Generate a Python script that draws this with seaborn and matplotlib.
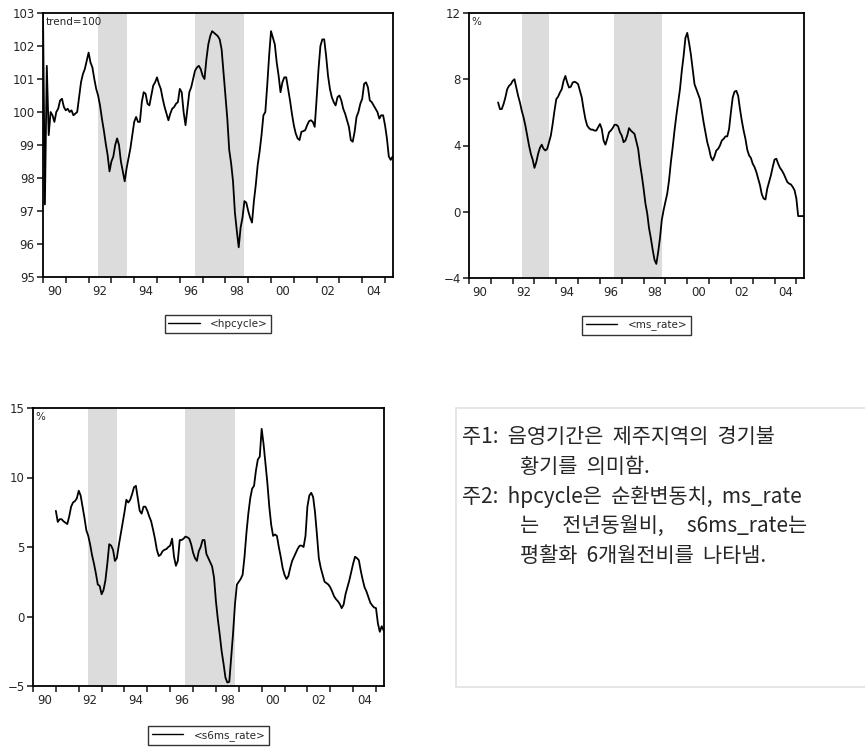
import numpy as np
import pandas as pd

import matplotlib
matplotlib.use("Agg")
import matplotlib.pyplot as plt
import seaborn as sns
from matplotlib.patches import Rectangle


# ---------------------------- DATA (monthly, from 1990:01) ----------------------------
# hpcycle : cyclical component, trend = 100
hpcycle_start = 0
hpcycle = [103.0, 97.2, 101.4, 99.3, 100.0, 99.9, 99.7, 100.0, 100.1, 100.35,
           100.4, 100.15, 100.05, 100.1, 100.0, 100.05, 99.9, 99.95, 100.0, 100.45,
           100.9, 101.15, 101.3, 101.55, 101.8, 101.5, 101.35, 101.0, 100.7, 100.5,
           100.2, 99.8, 99.45, 99.05, 98.7, 98.2, 98.5, 98.65, 99.0, 99.2,
           99.0, 98.5, 98.2, 97.9, 98.3, 98.6, 98.9, 99.3, 99.7, 99.85,
           99.7, 99.7, 100.3, 100.6, 100.55, 100.25, 100.2, 100.5, 100.8, 100.9,
           101.05, 100.85, 100.7, 100.4, 100.15, 99.95, 99.75, 99.95, 100.1, 100.15,
           100.25, 100.3, 100.7, 100.6, 100.0, 99.6, 100.1, 100.6, 100.75, 101.0,
           101.25, 101.35, 101.4, 101.3, 101.1, 101.0, 101.6, 102.05, 102.3, 102.45,
           102.4, 102.35, 102.3, 102.2, 101.9, 101.2, 100.5, 99.8, 98.85, 98.45,
           97.9, 96.95, 96.4, 95.9, 96.5, 96.8, 97.3, 97.25, 97.0, 96.8,
           96.65, 97.3, 97.8, 98.4, 98.8, 99.3, 99.9, 100.0, 100.8, 101.7,
           102.45, 102.25, 102.05, 101.5, 101.1, 100.6, 100.9, 101.05, 101.05, 100.7,
           100.35, 99.95, 99.6, 99.35, 99.2, 99.15, 99.4, 99.42, 99.45, 99.6,
           99.72, 99.75, 99.7, 99.55, 100.4, 101.3, 102.0, 102.2, 102.2, 101.7,
           101.1, 100.7, 100.45, 100.3, 100.2, 100.45, 100.5, 100.35, 100.1, 99.95,
           99.75, 99.55, 99.15, 99.1, 99.4, 99.85, 100.0, 100.25, 100.4, 100.85,
           100.9, 100.75, 100.35, 100.3, 100.2, 100.1, 100.0, 99.8, 99.9, 99.9,
           99.6, 99.2, 98.65, 98.55, 98.65]

# ms_rate : year-on-year (%), starts 1991:05
ms_rate_start = 16
ms_rate = [6.6, 6.2, 6.2, 6.5,
           6.9, 7.4, 7.6, 7.7, 7.9, 8.0, 7.5, 7.0, 6.6, 6.1,
           5.7, 5.2, 4.6, 4.0, 3.5, 3.15, 2.65, 3.0, 3.5, 3.86,
           4.05, 3.8, 3.7, 3.8, 4.2, 4.6, 5.3, 6.1, 6.8, 6.95,
           7.2, 7.4, 7.9, 8.2, 7.8, 7.5, 7.55, 7.8, 7.85, 7.8,
           7.7, 7.3, 6.9, 6.2, 5.6, 5.2, 5.05, 4.96, 4.96, 4.9,
           4.9, 5.1, 5.3, 5.0, 4.3, 4.05, 4.4, 4.8, 4.9, 5.05,
           5.25, 5.25, 5.15, 4.8, 4.6, 4.2, 4.3, 4.6, 5.05, 4.9,
           4.8, 4.7, 4.25, 3.8, 2.9, 2.2, 1.4, 0.5, -0.1, -1.0,
           -1.6, -2.3, -2.9, -3.15, -2.45, -1.6, -0.5, 0.1, 0.6, 1.1,
           1.9, 3.0, 3.9, 4.9, 5.8, 6.6, 7.4, 8.5, 9.4, 10.5,
           10.8, 10.2, 9.5, 8.6, 7.7, 7.4, 7.1, 6.8, 6.1, 5.4,
           4.8, 4.2, 3.8, 3.3, 3.1, 3.35, 3.7, 3.8, 4.0, 4.3,
           4.4, 4.55, 4.55, 5.0, 6.0, 6.9, 7.25, 7.3, 7.0, 6.2,
           5.5, 4.9, 4.4, 3.75, 3.4, 3.25, 2.9, 2.7, 2.4, 2.0,
           1.6, 1.05, 0.8, 0.74, 1.4, 1.8, 2.2, 2.7, 3.15, 3.2,
           2.9, 2.65, 2.5, 2.3, 2.05, 1.8, 1.7, 1.65, 1.5, 1.3,
           0.8, -0.26, -0.26, -0.26, -0.26]

# s6ms_rate : smoothed 6-month rate (%), starts 1991:01
s6ms_rate_start = 12
s6ms_rate = [7.6, 6.8, 7.0, 7.0, 6.85, 6.75, 6.65, 7.2,
             7.9, 8.2, 8.3, 8.5, 9.05, 8.7, 7.9, 7.1, 6.2, 5.8,
             5.17, 4.4, 3.8, 3.1, 2.3, 2.2, 1.6, 1.9, 2.6, 3.8,
             5.2, 5.1, 4.8, 4.0, 4.2, 5.1, 5.9, 6.7, 7.5, 8.4,
             8.2, 8.4, 8.8, 9.3, 9.4, 8.5, 7.6, 7.4, 7.9, 7.9,
             7.6, 7.2, 6.85, 6.25, 5.6, 4.8, 4.35, 4.45, 4.7, 4.8,
             4.85, 5.0, 5.1, 5.6, 4.3, 3.65, 4.0, 5.5, 5.5, 5.6,
             5.75, 5.7, 5.6, 5.2, 4.6, 4.2, 4.0, 4.7, 5.0, 5.5,
             5.5, 4.5, 4.2, 3.9, 3.6, 2.8, 1.1, -0.2, -1.3, -2.5,
             -3.4, -4.4, -4.75, -4.7, -2.9, -1.2, 0.9, 2.3, 2.5, 2.7,
             3.0, 4.3, 6.0, 7.4, 8.5, 9.2, 9.4, 10.5, 11.3, 11.5,
             13.5, 12.4, 11.0, 9.6, 7.9, 6.6, 5.8, 5.9, 5.8, 5.0,
             4.3, 3.5, 3.0, 2.7, 2.9, 3.5, 4.0, 4.3, 4.6, 4.9,
             5.1, 5.1, 5.0, 5.8, 7.9, 8.7, 8.9, 8.6, 7.5, 5.9,
             4.2, 3.5, 3.0, 2.5, 2.4, 2.3, 2.1, 1.8, 1.45, 1.25,
             1.1, 0.9, 0.6, 0.85, 1.6, 2.1, 2.6, 3.2, 3.8, 4.3,
             4.2, 4.05, 3.3, 2.65, 2.1, 1.8, 1.4, 1.0, 0.8, 0.65,
             0.6, -0.5, -1.1, -0.7, -1.0]

# recession periods (shaded), decimal years
recessions = [(1992 + 5 / 12, 1993 + 8 / 12), (1996 + 8 / 12, 1998 + 10 / 12)]

year_ticks = list(range(1990, 2006))
label_years = [1990, 1992, 1994, 1996, 1998, 2000, 2002, 2004]
year_labels = ["90", "92", "94", "96", "98", "00", "02", "04"]

note_lines = ["주1:  음영기간은  제주지역의  경기불",
              "황기를  의미함.",
              "주2:  hpcycle은  순환변동치,  ms_rate",
              "는     전년동월비,     s6ms_rate는",
              "평활화  6개월전비를  나타냄."]


# -------------------------- SUPPORT FUNCTIONS --------------------------
def to_frame(values, start):
    # decimal year for each monthly observation
    months = np.arange(start, start + len(values))
    return pd.DataFrame({"date": 1990 + months / 12.0, "value": values})


def eviews_panel(ax, df, label, yticks, ylim, corner_text):
    for a, b in recessions:
        ax.axvspan(a, b, color="#dcdcdc", lw=0, zorder=0)

    sns.lineplot(x="date", y="value", data=df, ax=ax, color="black",
                 linewidth=1.3, label=label, zorder=3)

    ax.set_xlim(1990, 2005.35)
    ax.set_ylim(*ylim)
    ax.set_xlabel("")
    ax.set_ylabel("")

    # year ticks at the boundaries, labels in the middle of even years
    ax.set_xticks(year_ticks)
    ax.set_xticklabels([])
    ax.set_xticks([y + 0.5 for y in label_years], minor=True)
    ax.set_xticklabels(year_labels, minor=True)
    ax.tick_params(axis="x", which="major", direction="out", length=4, width=1.2)
    ax.tick_params(axis="x", which="minor", length=0, pad=6, labelsize=8.5)

    ax.set_yticks(yticks)
    ax.tick_params(axis="y", direction="out", length=4, width=1.2, labelsize=8.5, pad=2)

    for s in ax.spines.values():
        s.set_linewidth(1.3)
        s.set_color("black")

    ax.text(0.008, 0.985, corner_text, transform=ax.transAxes, fontsize=7.5,
            ha="left", va="top")

    leg = ax.legend(loc="upper center", bbox_to_anchor=(0.5, -0.145), fontsize=7.5,
                    frameon=True, fancybox=False, edgecolor="black",
                    handlelength=3.0, borderpad=0.35, handletextpad=1.0,
                    borderaxespad=0.0)
    leg.get_frame().set_linewidth(1.0)
    for h in leg.get_lines():
        h.set_linewidth(1.0)


# -------------------------- TO PLOT --------------------------
sns.set_theme(style="ticks")
plt.rcParams["font.family"] = ["DejaVu Sans"]

fig = plt.figure(figsize=(8.65, 7.55), dpi=100)

ax1 = fig.add_axes([43 / 865, 1 - 277 / 755, 350 / 865, 264 / 755])
eviews_panel(ax1, to_frame(hpcycle, hpcycle_start), "<hpcycle>",
             list(range(95, 104)), (95, 103), "trend=100")

ax2 = fig.add_axes([469 / 865, 1 - 278 / 755, 335 / 865, 265 / 755])
eviews_panel(ax2, to_frame(ms_rate, ms_rate_start), "<ms_rate>",
             [-4, 0, 4, 8, 12], (-4, 12), "%")

ax3 = fig.add_axes([33 / 865, 1 - 686 / 755, 351 / 865, 278 / 755])
eviews_panel(ax3, to_frame(s6ms_rate, s6ms_rate_start), "<s6ms_rate>",
             [-5, 0, 5, 10, 15], (-5, 15), "%")

# note box on the lower right
box = Rectangle((456 / 865, 1 - 687 / 755), 420 / 865, 279 / 755,
                transform=fig.transFigure, facecolor="white",
                edgecolor="#e2e2e2", linewidth=1.2)
fig.patches.append(box)

kfont = ["Noto Sans CJK KR", "DejaVu Sans"]
line_pos = [(462, 437), (520, 467), (462, 497), (520, 526), (520, 556)]
for txt, (px, py) in zip(note_lines, line_pos):
    fig.text(px / 865, 1 - py / 755, txt, fontsize=15, family=kfont,
             ha="left", va="center")

fig.savefig("out.png", dpi=100)
